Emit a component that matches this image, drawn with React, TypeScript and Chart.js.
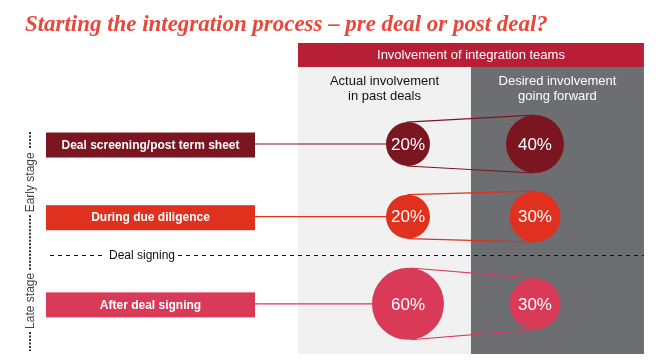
import React, { useEffect, useRef } from 'react';
import { Chart, registerables } from 'chart.js';

Chart.register(...registerables);

// ---------- data ----------
const TITLE = 'Starting the integration process – pre deal or post deal?';
const HEADER = 'Involvement of integration teams';
const COLUMN_LABELS = [
  ['Actual involvement', 'in past deals'],
  ['Desired involvement', 'going forward'],
];
const STAGES = ['Deal screening/post term sheet', 'During due diligence', 'After deal signing'];
const ACTUAL = [20, 20, 60];
const DESIRED = [40, 30, 30];
const ROW_COLORS = ['#7b1520', '#e0311f', '#d93a57'];
const SIGNING_LABEL = 'Deal signing';
const EARLY_LABEL = 'Early stage';
const LATE_LABEL = 'Late stage';
const FIRST_LATE_ROW = 2;

// ---------- layout ----------
const W = 672;
const H = 360;
const LATE_GAP = 0.2;
const SIGNING_Y = 1.53;
// data-space extents of the panel (columns) and the chart scales
const X_MIN = -0.866;
const X_MAX = 1.764;
const PANEL_X_MAX = 1.858;
const Y_MIN = -1.06;
const Y_MAX = 2.422;
const PANEL_Y_MAX = 2.89;
const rowPos = (i: number) => i + (i >= FIRST_LATE_ROW ? LATE_GAP : 0);
const radiusFor = (v: number) => 15 + 0.35 * v;
const SANS = '"Liberation Sans", Arial, sans-serif';
const SERIF = '"Liberation Serif", "DejaVu Serif", serif';
const COL_BG = ['#f1f1f1', '#6d6e72'];
const HEADER_BG = '#b81f36';
const BOX_LEFT = 46;
const BOX_RIGHT = 255;

function tangentPoints(x1: number, y1: number, r1: number, x2: number, y2: number, r2: number) {
  const dx = x2 - x1;
  const dy = y2 - y1;
  const d = Math.hypot(dx, dy);
  const ux = dx / d;
  const uy = dy / d;
  const c = (r1 - r2) / d;
  const h = Math.sqrt(Math.max(0, 1 - c * c));
  const res: number[][] = [];
  for (const s of [-1, 1]) {
    const nx = c * ux - s * h * uy;
    const ny = c * uy + s * h * ux;
    res.push([x1 + r1 * nx, y1 + r1 * ny, x2 + r2 * nx, y2 + r2 * ny]);
  }
  return res;
}

const decorPlugin = {
  id: 'decor',
  beforeDatasetsDraw(chart: any) {
    const { ctx } = chart;
    const xs = chart.scales.x;
    const ys = chart.scales.y;
    const left = xs.getPixelForValue(X_MIN);
    const right = xs.getPixelForValue(PANEL_X_MAX);
    const top = ys.getPixelForValue(Y_MIN);
    const bottom = ys.getPixelForValue(PANEL_Y_MAX);
    const mid = (left + right) / 2;
    ctx.save();

    // title
    let size = 19;
    ctx.font = `italic bold ${size}px ${SERIF}`;
    const tw = ctx.measureText(TITLE).width;
    size = Math.max(16, Math.min(23, (size * 523) / tw));
    ctx.font = `italic bold ${size}px ${SERIF}`;
    ctx.fillStyle = '#e8473c';
    ctx.textAlign = 'left';
    ctx.textBaseline = 'alphabetic';
    ctx.fillText(TITLE, 25, 31);

    // columns
    ctx.fillStyle = COL_BG[0];
    ctx.fillRect(left, top, mid - left, bottom - top);
    ctx.fillStyle = COL_BG[1];
    ctx.fillRect(mid, top, right - mid, bottom - top);

    // header bar
    ctx.fillStyle = HEADER_BG;
    ctx.fillRect(left, 43, right - left, top - 43);
    ctx.fillStyle = '#ffffff';
    ctx.font = `13px ${SANS}`;
    ctx.textAlign = 'center';
    ctx.textBaseline = 'middle';
    ctx.fillText(HEADER, (left + right) / 2, 55);

    // column labels
    const colCenters = [(left + mid) / 2, (mid + right) / 2];
    COLUMN_LABELS.forEach((lines, c) => {
      ctx.fillStyle = c === 0 ? '#111111' : '#ffffff';
      lines.forEach((t, k) => ctx.fillText(t, colCenters[c], 81 + k * 15.5));
    });

    // deal signing divider
    const sy = Math.round(ys.getPixelForValue(SIGNING_Y)) + 0.5;
    ctx.font = `12px ${SANS}`;
    const labW = ctx.measureText(SIGNING_LABEL).width;
    const labX = 142;
    ctx.strokeStyle = '#111111';
    ctx.lineWidth = 1;
    ctx.setLineDash([4, 4]);
    ctx.beginPath();
    ctx.moveTo(50, sy);
    ctx.lineTo(labX - labW / 2 - 3, sy);
    ctx.moveTo(labX + labW / 2 + 3, sy);
    ctx.lineTo(right, sy);
    ctx.stroke();
    ctx.setLineDash([]);
    ctx.fillStyle = '#111111';
    ctx.fillText(SIGNING_LABEL, labX, sy);

    // stage boxes + connectors
    const metaA = chart.getDatasetMeta(0);
    STAGES.forEach((s, i) => {
      const el = metaA.data[i];
      const cy = el.y;
      ctx.fillStyle = ROW_COLORS[i];
      ctx.fillRect(BOX_LEFT, cy - 11.5, BOX_RIGHT - BOX_LEFT, 25);
      ctx.fillStyle = '#ffffff';
      ctx.font = `bold 12px ${SANS}`;
      ctx.fillText(s, (BOX_LEFT + BOX_RIGHT) / 2, cy + 1.5);
      ctx.strokeStyle = ROW_COLORS[i];
      ctx.lineWidth = 1.2;
      ctx.beginPath();
      ctx.moveTo(BOX_RIGHT, cy);
      ctx.lineTo(el.x - radiusFor(ACTUAL[i]) + 1, cy);
      ctx.stroke();
    });

    // funnel lines between bubbles
    const metaD = chart.getDatasetMeta(1);
    STAGES.forEach((_, i) => {
      const a = metaA.data[i];
      const d = metaD.data[i];
      const tp = tangentPoints(a.x, a.y, radiusFor(ACTUAL[i]), d.x, d.y, radiusFor(DESIRED[i]));
      ctx.strokeStyle = ROW_COLORS[i];
      ctx.lineWidth = 1.2;
      tp.forEach(([x1, y1, x2, y2]) => {
        ctx.beginPath();
        ctx.moveTo(x1, y1);
        ctx.lineTo(x2, y2);
        ctx.stroke();
      });
    });

    // vertical stage labels
    ctx.font = `12px ${SANS}`;
    const vx = 31;
    const earlyC = (metaA.data[0].y + metaA.data[1].y) / 2 + 2;
    const lateC = metaA.data[FIRST_LATE_ROW].y - 3;
    const ew = ctx.measureText(EARLY_LABEL).width;
    const lw = ctx.measureText(LATE_LABEL).width;
    ctx.fillStyle = '#444444';
    [[EARLY_LABEL, earlyC], [LATE_LABEL, lateC]].forEach(([t, c]) => {
      ctx.save();
      ctx.translate(vx, c as number);
      ctx.rotate(-Math.PI / 2);
      ctx.fillText(t as string, 0, 0);
      ctx.restore();
    });
    ctx.strokeStyle = '#333333';
    ctx.lineWidth = 2;
    ctx.setLineDash([2, 1.5]);
    const segs = [
      [132, earlyC - ew / 2 - 3],
      [earlyC + ew / 2 + 3, lateC - lw / 2 - 3],
      [lateC + lw / 2 + 3, 351],
    ];
    segs.forEach(([a, b]) => {
      ctx.beginPath();
      ctx.moveTo(vx - 1, a);
      ctx.lineTo(vx - 1, b);
      ctx.stroke();
    });
    ctx.setLineDash([]);
    ctx.restore();
  },
  afterDatasetsDraw(chart: any) {
    const { ctx } = chart;
    ctx.save();
    ctx.fillStyle = '#ffffff';
    ctx.font = `17px ${SANS}`;
    ctx.textAlign = 'center';
    ctx.textBaseline = 'middle';
    [ACTUAL, DESIRED].forEach((vals, ds) => {
      const meta = chart.getDatasetMeta(ds);
      vals.forEach((v, i) => {
        const el = meta.data[i];
        ctx.fillText(`${v}%`, el.x, el.y + 1);
      });
    });
    ctx.restore();
  },
};

export default function App() {
  const ref = useRef<HTMLCanvasElement | null>(null);
  useEffect(() => {
    if (!ref.current) return;
    const mk = (vals: number[], col: number) =>
      vals.map((v, i) => ({ x: col, y: rowPos(i), r: radiusFor(v) }));
    const chart = new Chart(ref.current, {
      type: 'bubble',
      data: {
        datasets: [
          { label: COLUMN_LABELS[0].join(' '), data: mk(ACTUAL, 0), backgroundColor: ROW_COLORS, borderWidth: 0, clip: false },
          { label: COLUMN_LABELS[1].join(' '), data: mk(DESIRED, 1), backgroundColor: ROW_COLORS, borderWidth: 0, clip: false },
        ],
      },
      options: {
        responsive: true,
        maintainAspectRatio: false,
        animation: false,
        events: [],
        layout: { padding: { left: 298, right: 40, top: 67, bottom: 40 } },
        plugins: { legend: { display: false }, tooltip: { enabled: false }, title: { display: false } },
        scales: {
          x: { type: 'linear', display: false, min: X_MIN, max: X_MAX },
          y: { type: 'linear', display: false, reverse: true, min: Y_MIN, max: Y_MAX },
        },
      },
      plugins: [decorPlugin],
    });
    return () => chart.destroy();
  }, []);
  return (
    <div style={{ position: 'fixed', left: 0, top: 0, width: W, height: H, background: '#fff' }}>
      <canvas ref={ref} />
    </div>
  );
}
